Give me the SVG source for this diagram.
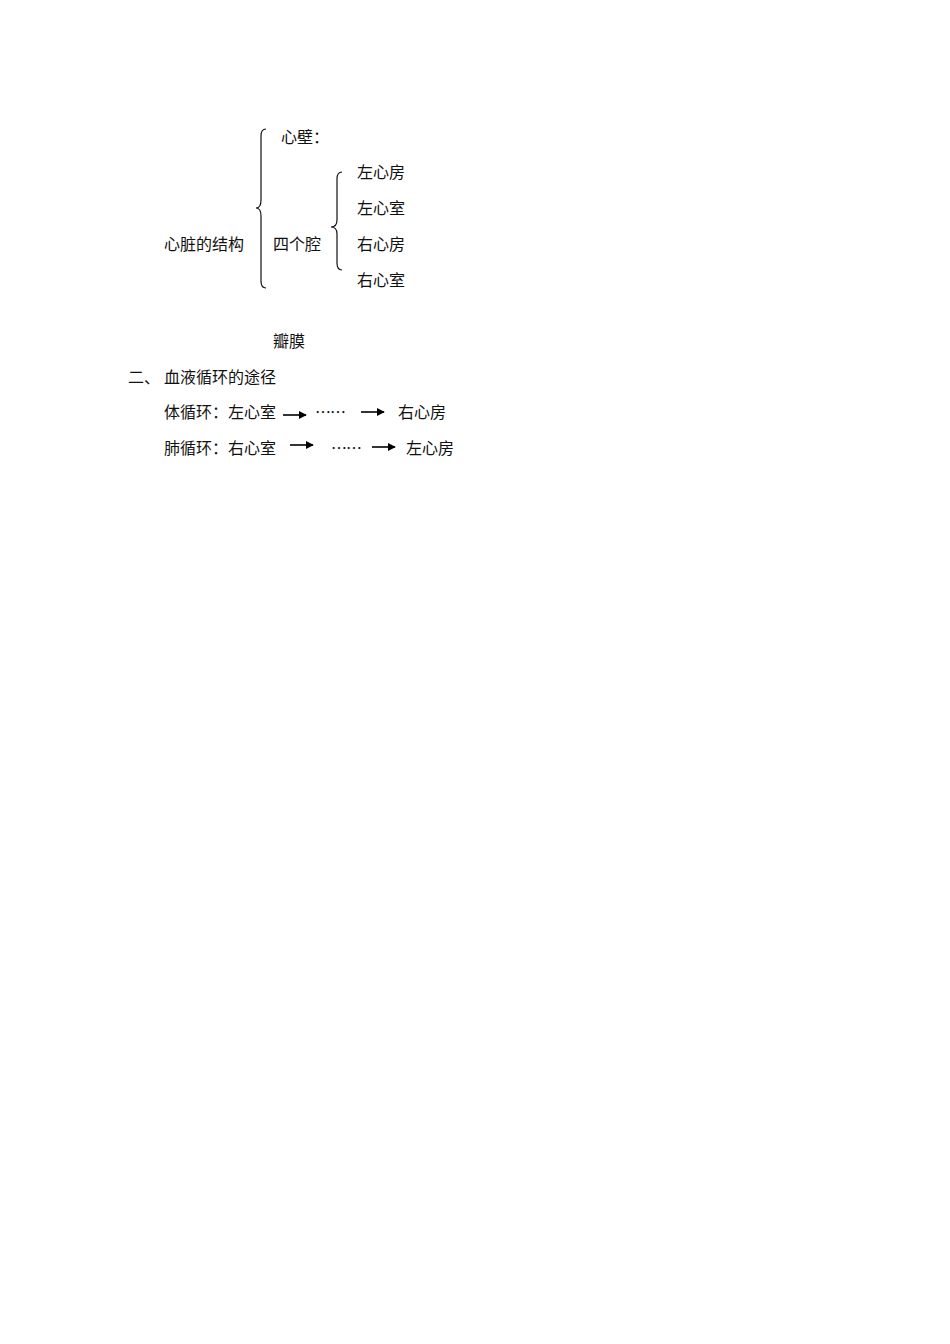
<svg xmlns="http://www.w3.org/2000/svg" width="950" height="1344" viewBox="0 0 950 1344">
<style>
text{font-family:"Noto Sans CJK SC","Noto Sans CJK JP",sans-serif;font-size:16px;fill:#111}
.brace{fill:none;stroke:#111;stroke-width:1.2}
.arr{stroke:#000;stroke-width:1.6;fill:none}
</style>
<defs>
<marker id="ah" viewBox="0 0 10 10" refX="9" refY="5" markerWidth="5" markerHeight="5" orient="auto" markerUnits="strokeWidth">
<path d="M0,0 L10,5 L0,10 Z" fill="#000"/>
</marker>
</defs>
<rect width="950" height="1344" fill="#fff"/>
<g id="root"><text x="164" y="250">心脏的结构</text></g>
<g id="brace-main"><path class="brace" d="M266,129 Q261,129 261,136 L261,200 Q261,208 256,208 Q261,208 261,216 L261,281 Q261,288 266,288"/></g>
<g id="xinbi"><text x="281" y="143">心壁：</text></g>
<g id="sigeqiang"><text x="273" y="250">四个腔</text></g>
<g id="brace-sub"><path class="brace" d="M342,172 Q337,172 337,179 L337,220 Q337,227 331,227 Q337,227 337,234 L337,263 Q337,270 342,270"/></g>
<g id="zxf"><text x="357" y="178">左心房</text></g>
<g id="zxs"><text x="357" y="214">左心室</text></g>
<g id="yxf"><text x="357" y="250">右心房</text></g>
<g id="yxs"><text x="357" y="286">右心室</text></g>
<g id="banmo"><text x="273" y="347">瓣膜</text></g>
<g id="heading"><text x="128" y="383">二、</text><text x="164" y="383">血液循环的途径</text></g>
<g id="ti"><text x="164" y="418">体循环：左心室</text><text x="315" y="418" textLength="31">……</text><text x="398" y="418">右心房</text></g>
<g id="fei"><text x="164" y="454">肺循环：右心室</text><text x="331" y="454" textLength="31">……</text><text x="406" y="454">左心房</text></g>
<g id="connectors">
<line class="arr" x1="283" y1="415" x2="306" y2="415" marker-end="url(#ah)"/>
<line class="arr" x1="361" y1="412" x2="384" y2="412" marker-end="url(#ah)"/>
<line class="arr" x1="290" y1="445" x2="313" y2="445" marker-end="url(#ah)"/>
<line class="arr" x1="372" y1="447" x2="395" y2="447" marker-end="url(#ah)"/>
</g>
</svg>
